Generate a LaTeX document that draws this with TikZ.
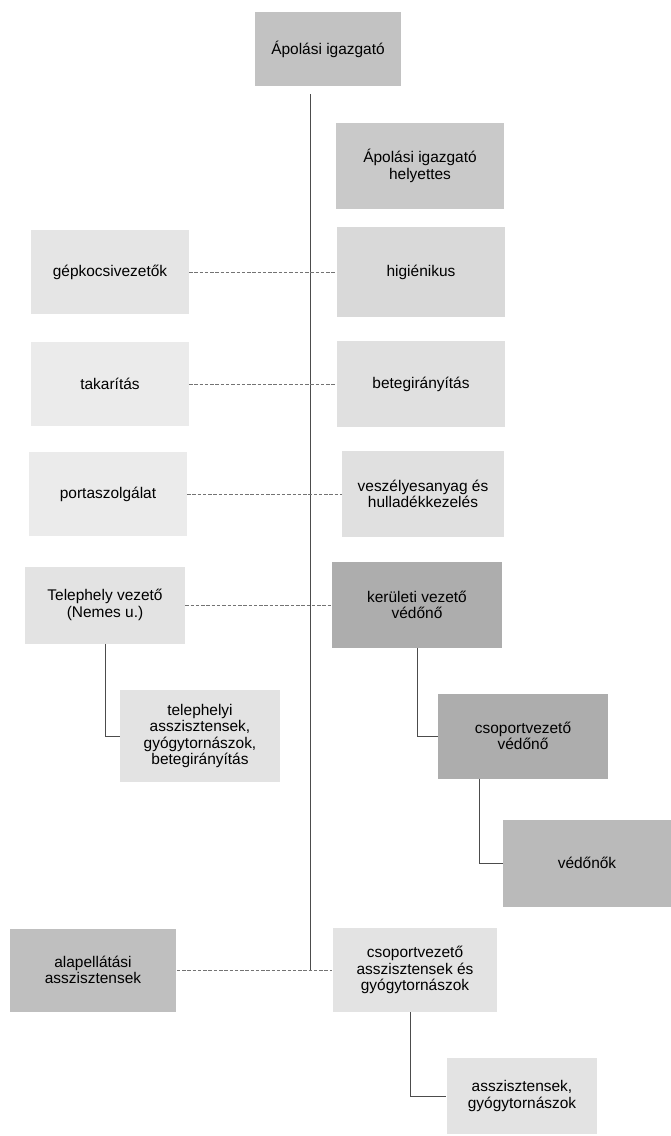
\documentclass[tikz,border=0pt]{standalone}
\usepackage{fontspec}
\setmainfont{Liberation Sans}
\usepackage{xcolor}
\usepackage{tikz}
\usetikzlibrary{positioning}

\begin{document}
\begin{tikzpicture}[
    x=0.02cm, y=-0.02cm,
    box/.style={rectangle, minimum width=3.36cm, minimum height=1.72cm, align=center, inner sep=1pt, font=\fontsize{8.8pt}{9.4pt}\selectfont},
    sidebox/.style={box, minimum width=3.15cm, minimum height=1.68cm},
    trunk/.style={draw=black!70, line width=0.5pt},
    link/.style={draw=black!55, line width=0.4pt, dash pattern=on 2pt off 1pt},
    elbow/.style={draw=black!70, line width=0.5pt}
]
\useasboundingbox (0,0) rectangle (671,1136);

% Top
\node[box, fill=black!24, minimum width=2.94cm, minimum height=1.48cm] (igazgato) at (328,49) {Ápolási igazgató};

% Right column
\node[box, fill=black!21] (helyettes) at (420,166) {Ápolási igazgató\\helyettes};
\node[box, fill=black!15, minimum height=1.8cm] (higienikus) at (421,272) {higiénikus};
\node[box, fill=black!12] (betegir) at (421,384) {betegirányítás};
\node[box, fill=black!12, minimum width=3.24cm] (veszely) at (423,494) {veszélyesanyag és\\hulladékkezelés};
\node[box, fill=black!32, minimum width=3.4cm] (kerulet) at (417,605) {kerületi vezető\\védőnő};
\node[box, fill=black!32, minimum width=3.4cm, minimum height=1.7cm] (csopvedo) at (523,736) {csoportvezető\\védőnő};
\node[box, fill=black!27, minimum height=1.74cm] (vedonok) at (587,863) {védőnők};

% Left column
\node[sidebox, fill=black!10] (gepkocsi) at (110,272) {gépkocsivezetők};
\node[sidebox, fill=black!8] (takaritas) at (110,384) {takarítás};
\node[sidebox, fill=black!8] (porta) at (108,494) {portaszolgálat};
\node[sidebox, fill=black!11, minimum width=3.2cm, minimum height=1.54cm] (telephely) at (105,605) {Telephely vezető\\(Nemes u.)};
\node[sidebox, fill=black!11, minimum width=3.2cm, minimum height=1.84cm] (telepasz) at (200,736) {telephelyi\\asszisztensek,\\gyógytornászok,\\betegirányítás};

% Bottom
\node[sidebox, fill=black!25, minimum width=3.34cm, minimum height=1.66cm] (alapell) at (93,970) {alapellátási\\asszisztensek};
\node[box, fill=black!11, minimum width=3.3cm, minimum height=1.68cm] (csopasz) at (415,970) {csoportvezető\\asszisztensek és\\gyógytornászok};
\node[box, fill=black!11, minimum width=3.02cm, minimum height=1.52cm] (asszgy) at (522,1096) {asszisztensek,\\gyógytornászok};

% Lines
\coordinate (trunkend) at (310,970);
\draw[trunk] (igazgato.south -| trunkend) ++(0,8) -- (trunkend);
\draw[link] (gepkocsi) -- (higienikus);
\draw[link] (takaritas) -- (betegir);
\draw[link] (porta) -- (veszely);
\draw[link] (telephely) -- (kerulet);
\draw[link] (alapell) -- (csopasz);
\draw[elbow] (telephely.south) |- (telepasz.west);
\draw[elbow] (kerulet.south) |- (csopvedo.west);
\draw[elbow] ([xshift=0.84cm]csopvedo.south west) |- (vedonok.west);
\draw[elbow] ([xshift=-0.1cm]csopasz.south) |- (asszgy.west);

\end{tikzpicture}
\end{document}
